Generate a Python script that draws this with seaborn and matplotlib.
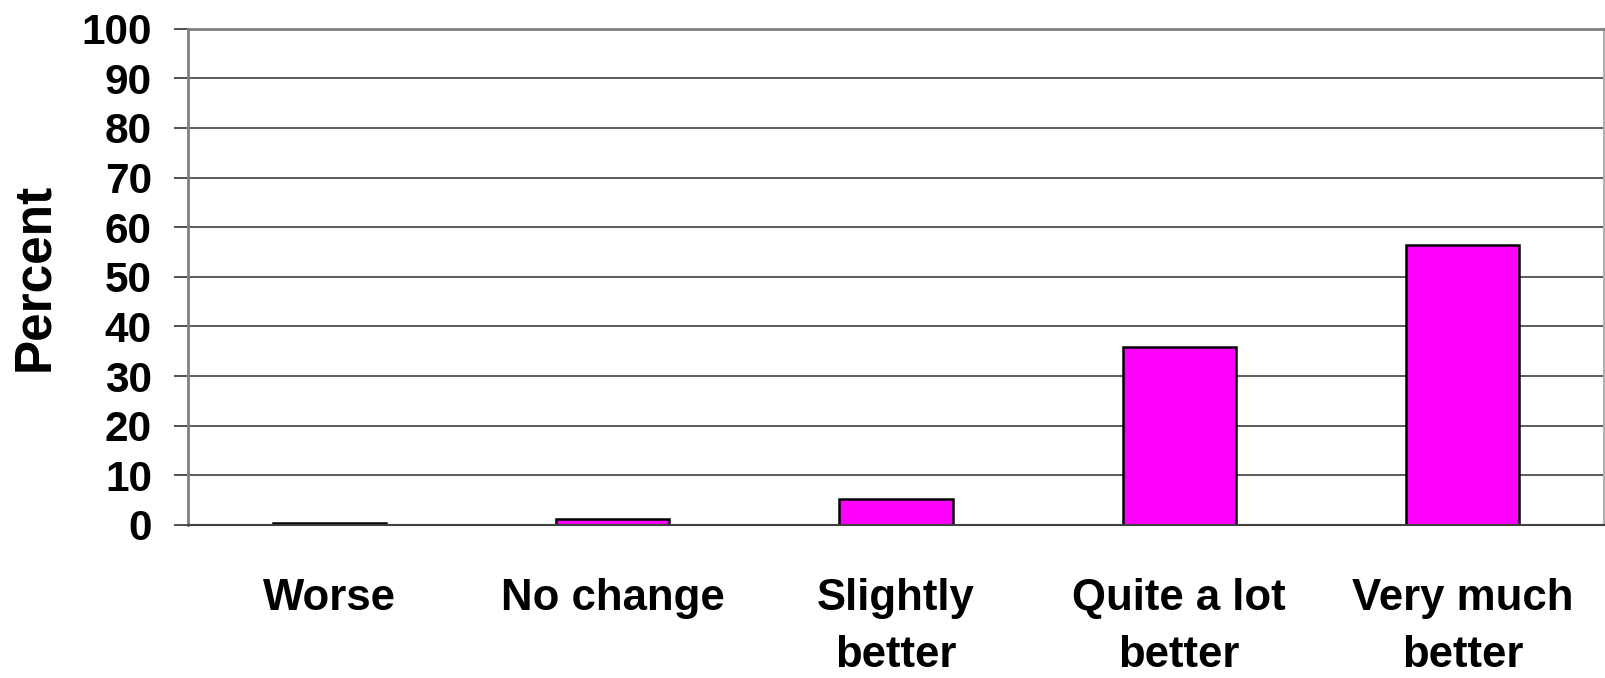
import matplotlib
matplotlib.use("Agg")
import matplotlib.pyplot as plt
import seaborn as sns
import numpy as np

categories = ["Worse", "No change", "Slightly\nbetter", "Quite a lot\nbetter", "Very much\nbetter"]
values = [0.5, 1.2, 5.3, 35.9, 56.5]
yticks = [0, 10, 20, 30, 40, 50, 60, 70, 80, 90, 100]

sns.set_style("white")
plt.rcParams["font.family"] = ["Liberation Sans", "DejaVu Sans"]
plt.rcParams["font.weight"] = "bold"
plt.rcParams["text.color"] = "black"
plt.rcParams["axes.labelcolor"] = "black"
plt.rcParams["xtick.color"] = "black"
plt.rcParams["ytick.color"] = "black"

fig = plt.figure(figsize=(16.05, 6.78), dpi=100)
ax = fig.add_axes([188/1605, 1 - 525/678, (1604-188)/1605, (525-28.7)/678])

sns.barplot(x=categories, y=values, color="#FF00FF", saturation=1,
            edgecolor="black", linewidth=1.8, width=0.4, ax=ax, zorder=3)

ax.set_xlim(-0.5, 4.5)
ax.set_ylim(0, 100)
ax.set_yticks(yticks)
ax.set_yticklabels([str(t) for t in yticks], fontsize=30.5, fontweight="bold", color="black")
ax.yaxis.grid(True, color="#303030", linewidth=1.1, zorder=0)
ax.set_axisbelow(True)

ax.set_xticks(range(len(categories)))
ax.set_xticklabels(categories, fontsize=31.5, fontweight="bold", linespacing=1.5, va="top", color="black")
ax.tick_params(axis="x", which="major", length=0, pad=38)
ax.set_xticks(np.arange(-0.5, 4.0, 1.0), minor=True)
ax.tick_params(axis="x", which="minor", length=11, width=1.3, color="#606060", direction="out")
ax.tick_params(axis="y", which="major", length=10, width=1.1, color="#202020", pad=16, direction="out", left=True)

ax.set_xlabel("")
ax.set_ylabel("Percent", fontsize=37, fontweight="bold", labelpad=16, color="black")

for s in ["left", "top"]:
    ax.spines[s].set_color("#808080")
    ax.spines[s].set_linewidth(2)
ax.spines["right"].set_color("#b0b0b0")
ax.spines["right"].set_linewidth(1.5)
ax.spines["bottom"].set_color("#404040")
ax.spines["bottom"].set_linewidth(1.5)
for s in ax.spines.values():
    s.set_zorder(4)

fig.savefig("out.png", dpi=100, facecolor="white")
